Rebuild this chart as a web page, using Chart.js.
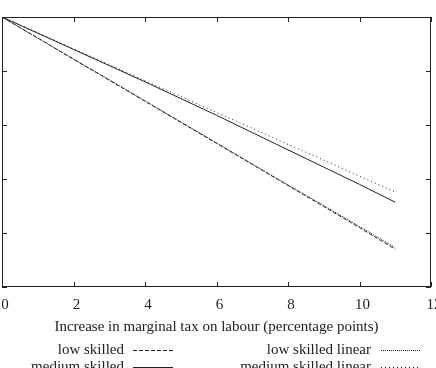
<!DOCTYPE html>
<html>
<head>
<meta charset="utf-8">
<script src="https://cdn.jsdelivr.net/npm/chart.js@4.4.0/dist/chart.umd.min.js"></script>
<style>
  html, body { margin: 0; padding: 0; background: #fff; }
  #wrap { width: 436px; height: 368px; }
</style>
</head>
<body>
<div id="wrap"><canvas id="grafico" width="436" height="368"></canvas></div>
<script>
// dados
const taxPoints = [0, 1, 2, 3, 4, 5, 6, 7, 8, 9, 10, 11];
const lowSkilled = [0, -0.39, -0.78, -1.17, -1.56, -1.95, -2.34, -2.73, -3.12, -3.51, -3.90, -4.30];
const mediumSkilled = [0, -0.30, -0.60, -0.90, -1.20, -1.51, -1.82, -2.14, -2.46, -2.78, -3.10, -3.43];
const lowSkilledLinear = [0, -0.39, -0.78, -1.16, -1.55, -1.94, -2.33, -2.72, -3.11, -3.49, -3.88, -4.27];
const mediumSkilledLinear = [0, -0.29, -0.59, -0.88, -1.18, -1.47, -1.77, -2.06, -2.36, -2.65, -2.95, -3.24];
const xTicks = [0, 2, 4, 6, 8, 10, 12];
const yTicks = [0, -1, -2, -3, -4, -5];

const fonte = "'Liberation Serif', 'DejaVu Serif', serif";

function serie(label, valores, dash) {
  return {
    label: label,
    data: taxPoints.map((x, i) => ({ x: x, y: valores[i] })),
    borderColor: '#222',
    borderWidth: 1,
    borderDash: dash,
    pointRadius: 0,
    fill: false,
    tension: 0
  };
}

// moldura e marcas internas, estilo gnuplot
const moldura = {
  id: 'moldura',
  afterDatasetsDraw(chart) {
    const { ctx, chartArea: a, scales } = chart;
    ctx.save();
    ctx.strokeStyle = '#222';
    ctx.lineWidth = 1;
    ctx.strokeRect(a.left + 0.5, a.top + 0.5, a.right - a.left - 1, a.bottom - a.top - 1);
    ctx.beginPath();
    xTicks.forEach(v => {
      const px = Math.round(scales.x.getPixelForValue(v)) + 0.5;
      ctx.moveTo(px, a.bottom); ctx.lineTo(px, a.bottom - 5);
      ctx.moveTo(px, a.top); ctx.lineTo(px, a.top + 5);
    });
    yTicks.forEach(v => {
      const py = Math.round(scales.y.getPixelForValue(v)) + 0.5;
      ctx.moveTo(a.left, py); ctx.lineTo(a.left + 5, py);
      ctx.moveTo(a.right, py); ctx.lineTo(a.right - 5, py);
    });
    ctx.stroke();
    ctx.restore();
  }
};

// legenda em duas colunas, texto à direita alinhado antes da amostra
const legenda = {
  id: 'legenda',
  afterDraw(chart) {
    const { ctx } = chart;
    const itens = [
      { ds: 0, textoX: 124, amostraX: 133, y: 350 },
      { ds: 1, textoX: 124, amostraX: 133, y: 367 },
      { ds: 2, textoX: 371, amostraX: 381, y: 350 },
      { ds: 3, textoX: 371, amostraX: 381, y: 367 }
    ];
    ctx.save();
    ctx.font = '15px ' + fonte;
    ctx.fillStyle = '#222';
    ctx.textAlign = 'right';
    ctx.textBaseline = 'middle';
    itens.forEach(it => {
      const ds = chart.data.datasets[it.ds];
      ctx.fillText(ds.label, it.textoX, it.y);
      ctx.beginPath();
      ctx.setLineDash(ds.borderDash);
      ctx.strokeStyle = ds.borderColor;
      ctx.lineWidth = 1;
      ctx.moveTo(it.amostraX, it.y + 0.5);
      ctx.lineTo(it.amostraX + 40, it.y + 0.5);
      ctx.stroke();
    });
    ctx.restore();
  }
};

new Chart(document.getElementById('grafico'), {
  type: 'line',
  data: {
    datasets: [
      serie('low skilled', lowSkilled, [4, 2]),
      serie('medium skilled', mediumSkilled, []),
      serie('low skilled linear', lowSkilledLinear, [1, 1]),
      serie('medium skilled linear', mediumSkilledLinear, [1, 3])
    ]
  },
  options: {
    responsive: false,
    animation: false,
    layout: { padding: { left: 2, right: 5, top: 17, bottom: 37 } },
    plugins: {
      legend: { display: false },
      tooltip: { enabled: false }
    },
    scales: {
      x: {
        type: 'linear',
        min: 0,
        max: 12,
        afterBuildTicks(scale) {
          scale.ticks = xTicks.map(v => ({ value: v }));
        },
        afterFit(scale) {
          scale.paddingLeft = 0;
          scale.paddingRight = 0;
        },
        grid: { display: false, drawTicks: false },
        border: { display: false },
        ticks: {
          color: '#222',
          padding: 11,
          labelOffset: 3,
          maxRotation: 0,
          autoSkip: false,
          font: { family: fonte, size: 15, lineHeight: 1 }
        },
        title: {
          display: true,
          text: 'Increase in marginal tax on labour (percentage points)',
          color: '#222',
          padding: { top: 0, bottom: 0 },
          font: { family: fonte, size: 15, lineHeight: '7px' }
        }
      },
      y: {
        type: 'linear',
        display: false,
        min: -5,
        max: 0
      }
    }
  },
  plugins: [moldura, legenda]
});
</script>
</body>
</html>
